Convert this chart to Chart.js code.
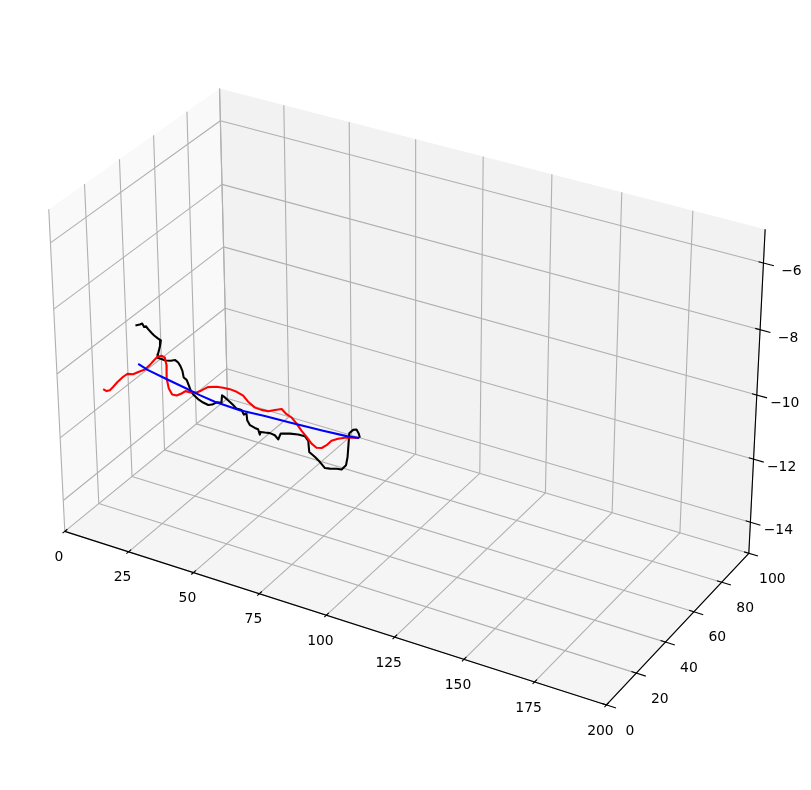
<!DOCTYPE html><html><head><meta charset="utf-8"><style>html,body{margin:0;padding:0;background:#fff}#w{width:811px;height:790px}</style>
<script src="https://cdn.jsdelivr.net/npm/chart.js@4/dist/chart.umd.min.js"></script></head><body><div id="w"><canvas id="c" width="811" height="790"></canvas></div>
<script>
const xTicks=[0,25,50,75,100,125,150,175,200];
const yTicks=[0,20,40,60,80,100];
const zTicks=[-14,-12,-10,-8,-6];
const xLim=[0,200],yLim=[0,100],zLim=[-15,-5];
const trackY=9.5;
const blackX=[24.6,26.3,27.2,27.9,28.6,29.4,30.6,31.6,33.1,34.1,33.7,32.8,32.6,34.1,35.6,37.6,39.3,40.4,41.2,41.9,42.3,43.4,44.2,44.9,46.0,47.5,49.4,51.3,52.8,54.5,56.3,56.6,57.4,58.8,60.5,61.9,63.8,64.6,65.6,65.8,66.8,68.6,69.8,70.4,70.7,72.3,74.2,76.0,77.2,78.2,81.6,84.6,87.1,88.3,88.6,90.7,92.5,94.3,96.1,98.6,100.4,102.0,102.6,103.0,103.3,104.7,105.9,106.7,107.1];
const blackZ=[-8.31,-8.24,-8.19,-8.28,-8.24,-8.31,-8.39,-8.45,-8.51,-8.54,-8.72,-9.00,-9.11,-9.11,-9.12,-9.08,-9.02,-9.07,-9.16,-9.29,-9.48,-9.53,-9.69,-9.84,-9.94,-10.02,-10.08,-10.11,-10.06,-9.95,-9.92,-9.68,-9.71,-9.78,-9.87,-9.96,-9.96,-10.08,-10.02,-10.22,-10.35,-10.39,-10.40,-10.55,-10.46,-10.44,-10.41,-10.43,-10.53,-10.32,-10.24,-10.19,-10.18,-10.30,-10.63,-10.73,-10.84,-10.98,-10.95,-10.89,-10.87,-10.70,-10.43,-10.01,-9.69,-9.55,-9.51,-9.61,-9.73];
const redX=[11.1,12.4,13.7,15.0,16.8,19.1,20.8,23.0,25.0,27.6,29.5,31.3,32.6,34.1,35.4,35.9,35.8,36.5,37.7,39.4,41.3,42.8,44.8,47.0,48.9,51.3,54.6,57.1,59.6,62.1,64.5,66.3,68.8,71.2,73.7,76.2,78.7,80.2,82.3,84.1,85.9,87.7,89.5,91.3,93.2,95.0,96.8,99.2,102.3,106.5];
const redZ=[-10.60,-10.63,-10.57,-10.44,-10.24,-10.02,-9.89,-9.85,-9.73,-9.59,-9.41,-9.21,-9.08,-9.01,-9.04,-9.25,-9.67,-9.96,-10.12,-10.11,-10.00,-9.89,-9.88,-9.83,-9.72,-9.56,-9.47,-9.44,-9.42,-9.44,-9.50,-9.64,-9.76,-9.77,-9.75,-9.65,-9.56,-9.66,-9.73,-9.87,-10.05,-10.19,-10.35,-10.43,-10.39,-10.26,-10.08,-9.96,-9.84,-9.75];
const blueX=[25.1,28.8,35.1,42.6,48.2,53.8,63.1,72.4,81.6,93.8,102.3,106.9];
const blueZ=[-9.48,-9.58,-9.68,-9.79,-9.88,-9.95,-9.98,-9.93,-9.90,-9.85,-9.80,-9.74];

// camera: elevation 30, azimuth -60, distance 10, box aspect 2:1:~1.19
const U=[.8660254,.5,0],V=[-.25,.4330127,.8660254],W=[.4330127,-.75,.5];
const BOX=[1.556,.778,.925],DIST=10;
const dot=(a,b)=>a[0]*b[0]+a[1]*b[1]+a[2]*b[2];
function proj(x,y,z){
  const d=[((x-xLim[0])/(xLim[1]-xLim[0])-.5)*BOX[0],((y-yLim[0])/(yLim[1]-yLim[0])-.5)*BOX[1],((z-zLim[0])/(zLim[1]-zLim[0])-.5)*BOX[2]];
  const q=DIST-dot(d,W);
  return {x:dot(d,U)/q,y:dot(d,V)/q};
}
const K=4030,OX=405.3,OY=384.5;
const line=(pts,color,width,order,extra)=>Object.assign({data:pts,showLine:true,borderColor:color,borderWidth:width,pointRadius:0,tension:0,order,borderJoinStyle:'round',borderCapStyle:'butt',fill:false},extra||{});
const pane=(pts,color)=>line(pts,color,0,100,{fill:'shape',backgroundColor:color,borderColor:color});
const [x0,x1]=xLim,[y0,y1]=yLim,[z0,z1]=zLim;
const datasets=[];
datasets.push(pane([proj(x0,y0,z0),proj(x0,y1,z0),proj(x0,y1,z1),proj(x0,y0,z1),proj(x0,y0,z0)],'#f9f9f9'));
datasets.push(pane([proj(x0,y1,z0),proj(x1,y1,z0),proj(x1,y1,z1),proj(x0,y1,z1),proj(x0,y1,z0)],'#f2f2f2'));
datasets.push(pane([proj(x0,y0,z0),proj(x1,y0,z0),proj(x1,y1,z0),proj(x0,y1,z0),proj(x0,y0,z0)],'#f5f5f5'));
const GRID='#b0b0b0',GW=1.1;
xTicks.forEach(t=>datasets.push(line([proj(t,y0,z0),proj(t,y1,z0),proj(t,y1,z1)],GRID,GW,90)));
yTicks.forEach(t=>datasets.push(line([proj(x1,t,z0),proj(x0,t,z0),proj(x0,t,z1)],GRID,GW,90)));
zTicks.forEach(t=>datasets.push(line([proj(x0,y0,t),proj(x0,y1,t),proj(x1,y1,t)],GRID,GW,90)));
const INK='#000000';
datasets.push(line([proj(x0,y0,z0),proj(x1,y0,z0),proj(x1,y1,z0),proj(x1,y1,z1)],INK,1.1,80));
xTicks.forEach(t=>datasets.push(line([proj(t,y0-1.3,z0),proj(t,y0+1.5,z0)],INK,1.1,70)));
yTicks.forEach(t=>datasets.push(line([proj(x1-1.7,t,z0),proj(x1+3.3,t,z0)],INK,1.1,70)));
zTicks.forEach(t=>datasets.push(line([proj(x1-1.7,y1,t),proj(x1+3.6,y1,t)],INK,1.1,70)));
const track=(xs,zs)=>xs.map((x,i)=>proj(x,trackY,zs[i]));
datasets.push(line(track(blackX,blackZ),'#000000',2.08,30));
datasets.push(line(track(redX,redZ),'#ff0000',2.08,20));
datasets.push(line(track(blueX,blueZ),'#0000ff',2.08,10));

const labels={id:'labels3d',afterDraw(ch){
  const c=ch.ctx,sx=ch.scales.x,sy=ch.scales.y;
  const put=(p,txt,dx,dy)=>c.fillText(txt,sx.getPixelForValue(p.x)+dx,sy.getPixelForValue(p.y)+dy);
  c.save();c.font='13.9px "DejaVu Sans"';c.fillStyle='#000';c.textAlign='center';c.textBaseline='middle';
  xTicks.forEach(t=>put(proj(t,y0,z0),String(t),-6,26));
  yTicks.forEach(t=>put(proj(x1,t,z0),String(t),23.5,26));
  zTicks.forEach(t=>put(proj(x1,y1,t),String(t).replace('-','\u2212'),28,8.5));
  c.restore();
}};
new Chart(document.getElementById('c'),{type:'scatter',data:{datasets},plugins:[labels],options:{
  responsive:false,animation:false,devicePixelRatio:1,layout:{padding:0},
  plugins:{legend:{display:false},tooltip:{enabled:false},title:{display:false}},
  scales:{
    x:{type:'linear',display:false,min:-OX/K,max:(811-OX)/K},
    y:{type:'linear',display:false,min:-(790-OY)/K,max:OY/K}
  }
}});
</script></body></html>
